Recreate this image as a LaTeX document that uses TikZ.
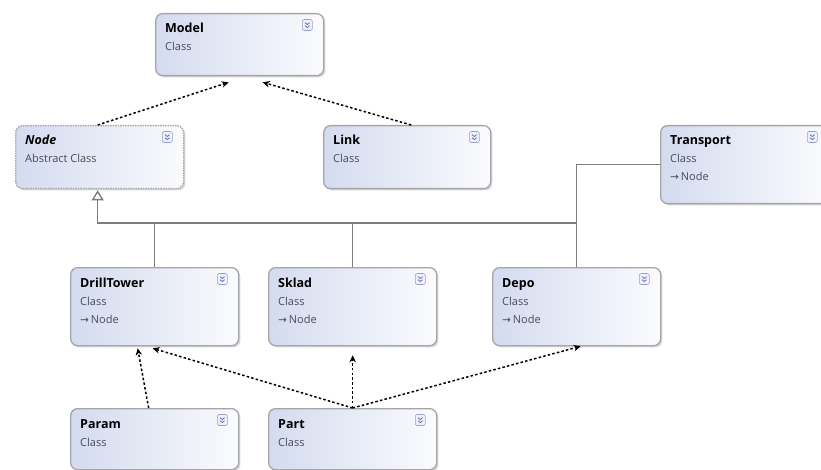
\documentclass[tikz,border=0pt]{standalone}
\usepackage{fontspec}
\setmainfont{Open Sans}
\newfontfamily\arrfont{DejaVu Sans}
\usetikzlibrary{shadows,arrows.meta}
\definecolor{boxleft}{RGB}{212,219,239}
\definecolor{boxright}{RGB}{250,251,253}
\definecolor{boxborder}{RGB}{165,165,170}
\definecolor{subtxt}{RGB}{75,75,85}
\definecolor{gencol}{RGB}{125,125,125}
\definecolor{iconborder}{RGB}{150,160,200}
\definecolor{iconfill}{RGB}{238,241,250}
\definecolor{chevcol}{RGB}{90,100,170}
\tikzset{
  clsbox/.style={draw=boxborder, line width=1.3pt, rounded corners=7pt,
    left color=boxleft, right color=boxright, inner sep=0pt,
    drop shadow={shadow xshift=1.8pt, shadow yshift=-1.8pt, opacity=0.3}},
  ttl/.style={anchor=base west, inner sep=0pt, font=\fontsize{12.5}{14}\selectfont\bfseries},
  subl/.style={anchor=base west, inner sep=0pt, text=subtxt, font=\fontsize{11}{13}\selectfont},
  icon/.style={draw=iconborder, fill=iconfill, rounded corners=2pt, line width=0.6pt,
    minimum width=10pt, minimum height=11pt, inner sep=0pt},
  chev/.style={draw=chevcol, line width=0.7pt},
  gen/.style={draw=gencol, line width=1.4pt},
  dep/.style={draw=black, line width=1.5pt, dash pattern=on 2.5pt off 2.2pt,
    -{Stealth[length=7pt,width=6.5pt]}},
}
\newcommand\umlbox[8]{%
  \node[clsbox, #1, minimum width=#5pt, minimum height=#6pt, anchor=north west] (#2) at (#3pt,-#4pt) {};
  \node[ttl] (#2-t) at ([xshift=10pt,yshift=-20pt]#2.north west) {#7};
  \node[subl] (#2-k) at ([xshift=10pt,yshift=-38pt]#2.north west) {#8};
  \node[icon] (#2-i) at ([xshift=-17pt,yshift=-12pt]#2.north east) {};
  \draw[chev] ([xshift=-2.3pt,yshift=2.3pt]#2-i.center) -- ([yshift=0.5pt]#2-i.center) -- ([xshift=2.3pt,yshift=2.3pt]#2-i.center);
  \draw[chev] ([xshift=-2.3pt,yshift=-0.7pt]#2-i.center) -- ([yshift=-2.5pt]#2-i.center) -- ([xshift=2.3pt,yshift=-0.7pt]#2-i.center);
}
\newcommand\umlextra[2]{%
  \node[subl] (#1-x) at ([xshift=10pt,yshift=-56pt]#1.north west) {{\arrfont\fontsize{10.5}{12}\selectfont →}\,#2};
}
\begin{document}
\begin{tikzpicture}
\useasboundingbox (0,0) rectangle (821pt,-470pt);
\clip (0,0) rectangle (821pt,-470pt);
\fill[white] (0,0) rectangle (821pt,-470pt);

\umlbox{}{Model}{155}{13}{168}{62}{Model}{Class}
\umlbox{dashed, dash pattern=on 1.5pt off 1pt}{NodeC}{15}{125}{168}{63}{\itshape Node}{Abstract Class}
\umlbox{}{Link}{323}{125}{167}{63}{Link}{Class}
\umlbox{}{Transport}{660}{125}{168}{78}{Transport}{Class}
\umlextra{Transport}{Node}
\umlbox{}{DrillTower}{70}{267}{168}{78}{DrillTower}{Class}
\umlextra{DrillTower}{Node}
\umlbox{}{Sklad}{268}{267}{168}{78}{Sklad}{Class}
\umlextra{Sklad}{Node}
\umlbox{}{Depo}{492}{267}{168}{78}{Depo}{Class}
\umlextra{Depo}{Node}
\umlbox{}{Param}{70}{408}{168}{61}{Param}{Class}
\umlbox{}{Part}{268}{408}{168}{61}{Part}{Class}

% generalization
\coordinate (bus) at (0,-223pt);
\draw[gen] (Depo.north) |- (Transport.west);
\draw[gen, -{Triangle[open, length=10pt, width=12pt, fill=white]}]
  (Depo.north |- bus) -| ([xshift=-2pt,yshift=-1pt]NodeC.south);
\draw[gen] (DrillTower.north) -- (DrillTower.north |- bus);
\draw[gen] (Sklad.north) -- (Sklad.north |- bus);

% dependencies
\draw[dep] ([xshift=-2pt]NodeC.north) -- ([xshift=-11pt,yshift=-6pt]Model.south);
\draw[dep] ([xshift=4pt]Link.north) -- ([xshift=23pt,yshift=-6pt]Model.south);
\draw[dep] ([xshift=-6pt]Param.north) -- ([xshift=-17pt,yshift=-2pt]DrillTower.south);
\draw[dep] (Part.north) -- ([xshift=-2pt,yshift=-2pt]DrillTower.south);
\draw[dep] (Part.north) -- ([yshift=-9pt]Sklad.south);
\draw[dep] (Part.north) -- ([xshift=4pt,yshift=0pt]Depo.south);
\end{tikzpicture}
\end{document}
